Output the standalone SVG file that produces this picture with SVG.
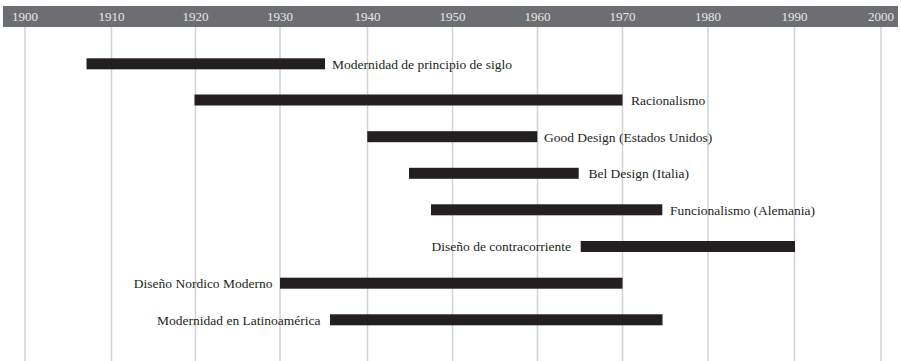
<svg xmlns="http://www.w3.org/2000/svg" width="901" height="361" viewBox="0 0 901 361">
<style>
.grid line{stroke:#d1d3d4;stroke-width:1.5}
.yr{font-family:"Liberation Serif","Times New Roman",serif;font-size:13px;fill:#e6e7e8;text-anchor:middle}
.bar{fill:#231f20}
.lbl{font-family:"Liberation Serif","Times New Roman",serif;font-size:13.5px;fill:#231f20}
.end{text-anchor:end}
</style>
<rect x="0" y="0" width="901" height="361" fill="#ffffff"/>
<g id="header">
<rect x="3" y="6" width="895" height="21" fill="#6d6e71"/>
<text class="yr" x="25" y="21">1900</text>
<text class="yr" x="111.5" y="21">1910</text>
<text class="yr" x="195.5" y="21">1920</text>
<text class="yr" x="280" y="21">1930</text>
<text class="yr" x="367.5" y="21">1940</text>
<text class="yr" x="452.5" y="21">1950</text>
<text class="yr" x="537.5" y="21">1960</text>
<text class="yr" x="622.5" y="21">1970</text>
<text class="yr" x="708" y="21">1980</text>
<text class="yr" x="794.5" y="21">1990</text>
<text class="yr" x="881" y="21">2000</text>
</g>
<g id="connectors" class="grid">
<line x1="25" y1="27" x2="25" y2="361"/>
<line x1="111.5" y1="27" x2="111.5" y2="361"/>
<line x1="195.5" y1="27" x2="195.5" y2="361"/>
<line x1="280" y1="27" x2="280" y2="361"/>
<line x1="367.5" y1="27" x2="367.5" y2="361"/>
<line x1="452.5" y1="27" x2="452.5" y2="361"/>
<line x1="537.5" y1="27" x2="537.5" y2="361"/>
<line x1="622.5" y1="27" x2="622.5" y2="361"/>
<line x1="708" y1="27" x2="708" y2="361"/>
<line x1="794.5" y1="27" x2="794.5" y2="361"/>
<line x1="881" y1="27" x2="881" y2="361"/>
</g>
<g id="n1"><rect class="bar" x="86.5" y="58.3" width="238.5" height="11"/><text class="lbl" x="332" y="68.7">Modernidad de principio de siglo</text></g>
<g id="n2"><rect class="bar" x="194.5" y="94.5" width="428" height="11"/><text class="lbl" x="631" y="104.9">Racionalismo</text></g>
<g id="n3"><rect class="bar" x="367.3" y="131.2" width="170" height="11"/><text class="lbl" x="544" y="141.6">Good Design (Estados Unidos)</text></g>
<g id="n4"><rect class="bar" x="409" y="167.8" width="169.7" height="11"/><text class="lbl" x="588.5" y="178.2">Bel Design (Italia)</text></g>
<g id="n5"><rect class="bar" x="431" y="204.3" width="231.3" height="11"/><text class="lbl" x="670" y="214.7">Funcionalismo (Alemania)</text></g>
<g id="n6"><rect class="bar" x="580.7" y="241" width="214.3" height="11"/><text class="lbl end" x="571" y="251.4">Diseño de contracorriente</text></g>
<g id="n7"><rect class="bar" x="280" y="277.7" width="342.5" height="11"/><text class="lbl end" x="272.5" y="288.1">Diseño Nordico Moderno</text></g>
<g id="n8"><rect class="bar" x="330" y="314.3" width="332.5" height="11"/><text class="lbl end" x="320.5" y="324.7">Modernidad en Latinoamérica</text></g>
</svg>
